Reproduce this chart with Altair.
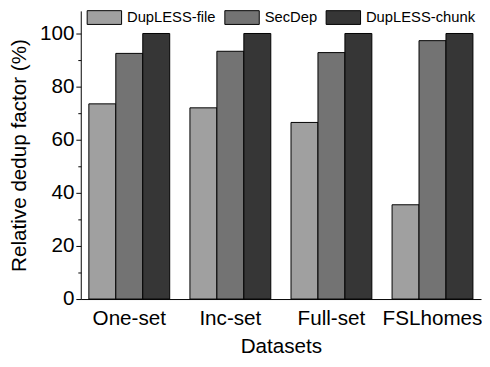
import altair as alt
import pandas as pd

categories = ["One-set", "Inc-set", "Full-set", "FSLhomes"]
series = ["DupLESS-file", "SecDep", "DupLESS-chunk"]
dupless_file = [73.5, 72.0, 66.5, 35.5]
secdep = [92.5, 93.3, 92.8, 97.3]
dupless_chunk = [100.0, 100.0, 100.0, 100.0]
y_major = [0, 20, 40, 60, 80, 100]
y_minor = [10, 30, 50, 70, 90]
colors = ["#a0a0a0", "#737373", "#363636"]

rows = []
for s, vals in zip(series, [dupless_file, secdep, dupless_chunk]):
    for c, v in zip(categories, vals):
        rows.append({"dataset": c, "series": s, "value": v})
df = pd.DataFrame(rows)
minor_df = pd.DataFrame({"v": y_minor})

FONT = "Liberation Sans"

yscale = alt.Scale(domain=[0, 108.5], nice=False, zero=True)

bars = alt.Chart(df).mark_bar(stroke="black", strokeWidth=1).encode(
    x=alt.X(
        "dataset:N",
        sort=categories,
        scale=alt.Scale(paddingInner=0.2, paddingOuter=0.08),
        axis=alt.Axis(
            title="Datasets",
            labelAngle=0,
            ticks=False,
            labelFontSize=21,
            titleFontSize=21,
            titleFontWeight="normal",
            labelColor="black",
            titleColor="black",
            domainColor="black",
            labelPadding=9,
            titlePadding=7,
            labelFont=FONT,
            titleFont=FONT,
        ),
    ),
    xOffset=alt.XOffset("series:N", sort=series,
                        scale=alt.Scale(paddingInner=0, paddingOuter=0)),
    y=alt.Y(
        "value:Q",
        scale=yscale,
        axis=alt.Axis(
            title="Relative dedup factor (%)",
            values=y_major,
            grid=False,
            tickSize=5,
            tickColor="black",
            domainColor="black",
            labelColor="black",
            titleColor="black",
            labelFontSize=21,
            titleFontSize=21,
            titleFontWeight="normal",
            labelPadding=2,
            titlePadding=10,
            labelFont=FONT,
            titleFont=FONT,
        ),
    ),
    color=alt.Color(
        "series:N",
        sort=series,
        scale=alt.Scale(domain=series, range=colors),
        legend=alt.Legend(
            title=None,
            orient="none",
            legendX=6,
            legendY=-1,
            direction="horizontal",
            symbolType="M-1,-1H4V1H-1Z",
            symbolSize=196,
            symbolStrokeColor="black",
            symbolStrokeWidth=1,
            symbolOpacity=1,
            labelFontSize=15,
            labelFont=FONT,
            labelColor="black",
            labelOffset=26,
            columnPadding=6,
        ),
    ),
)

minor = alt.Chart(minor_df).mark_point(opacity=0).encode(
    y=alt.Y(
        "v:Q",
        scale=yscale,
        axis=alt.Axis(
            orient="left",
            values=y_minor,
            labels=False,
            title=None,
            domain=False,
            grid=False,
            tickSize=3,
            tickColor="black",
        ),
    )
)

chart = alt.layer(bars, minor).resolve_axis(y="independent").properties(
    width=407,
    height=293,
    padding={"left": 74, "top": 0, "right": 1, "bottom": 58},
    autosize=alt.AutoSizeParams(type="none"),
).configure_view(stroke=None)

chart.save("out.html", embed_options={"renderer": "svg", "actions": False})
